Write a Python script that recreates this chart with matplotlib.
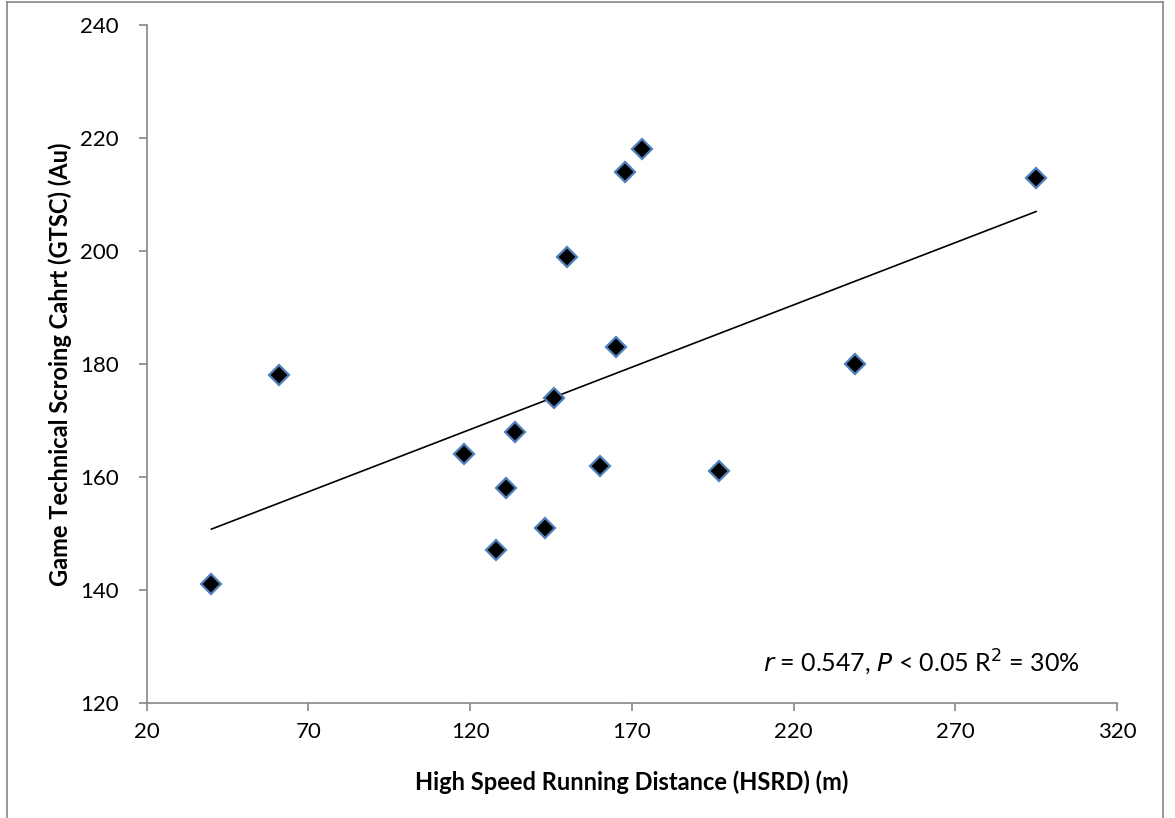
import numpy as np
import matplotlib
matplotlib.use('Agg')
import matplotlib.pyplot as plt
from matplotlib.lines import Line2D

# HSRD (m) vs GTSC (Au)
hsrd = [40, 61, 118, 134, 131, 128, 143, 146, 160, 165, 173, 168, 150, 295, 239, 197]
gtsc = [141, 178, 164, 168, 158, 147, 151, 174, 162, 183, 218, 214, 199, 213, 180, 161]

x_ticks = [20, 70, 120, 170, 220, 270, 320]
y_ticks = [120, 140, 160, 180, 200, 220, 240]

plt.rcParams['font.family'] = ['Lato', 'DejaVu Sans']

fig = plt.figure(figsize=(11.75, 8.18), dpi=100)
ax = fig.add_axes([0.1249, 0.1406, 0.9506 - 0.1249, 0.9694 - 0.1406])

# trend line (least squares)
slope, intercept = np.polyfit(hsrd, gtsc, 1)
xs = np.array([min(hsrd), max(hsrd)])
ax.plot(xs, slope * xs + intercept, color='black', linewidth=1.2, zorder=2)

ax.plot(hsrd, gtsc, linestyle='none', marker='D', markersize=10,
        markerfacecolor='black', markeredgecolor='#4F81BD', markeredgewidth=1.6, zorder=3)

ax.set_xlim(20, 320)
ax.set_ylim(120, 240)
ax.set_xticks(x_ticks)
ax.set_yticks(y_ticks)

for side in ['top', 'right']:
    ax.spines[side].set_visible(False)
for side in ['left', 'bottom']:
    ax.spines[side].set_color('#868686')
    ax.spines[side].set_linewidth(1.2)
ax.tick_params(direction='out', length=6, width=1.2, color='#868686',
               labelsize=16, labelcolor='black')
ax.tick_params(axis='y', pad=14)
ax.tick_params(axis='x', pad=8)

ax.set_xlabel('High Speed Running Distance (HSRD) (m)', fontsize=17, fontweight='bold', labelpad=20)
ax.set_ylabel('Game Technical Scroing Cahrt (GTSC) (Au)', fontsize=17, fontweight='bold', labelpad=6)

ax.text(0.962, 0.059, r'$\it{r}$ = 0.547, $\it{P}$ < 0.05 R$^2$ = 30%', transform=ax.transAxes,
        ha='right', va='center', fontsize=18)

# chart area border
border_color = '#868686'
fig.add_artist(Line2D([0.006, 0.006], [0, 0.997], transform=fig.transFigure, color=border_color, lw=1.2))
fig.add_artist(Line2D([0.006, 0.990], [0.997, 0.997], transform=fig.transFigure, color=border_color, lw=1.2))
fig.add_artist(Line2D([0.990, 0.990], [0, 0.997], transform=fig.transFigure, color=border_color, lw=1.2))

fig.savefig('out.png', dpi=100, facecolor='white')
